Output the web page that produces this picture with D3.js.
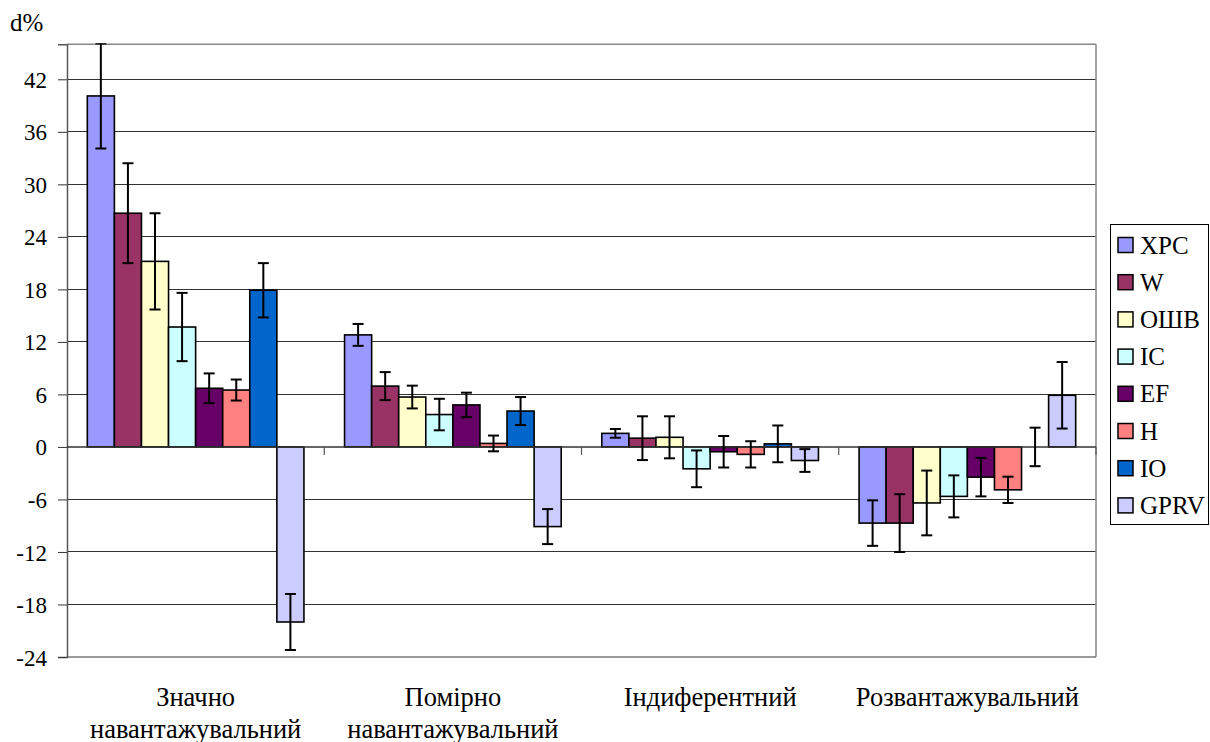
<!DOCTYPE html>
<html><head><meta charset="utf-8">
<script src="https://cdnjs.cloudflare.com/ajax/libs/d3/7.8.5/d3.min.js"></script>
<style>body{margin:0;background:#fff}svg{display:block}</style>
</head><body><svg id="c" width="1210" height="742"></svg>
<script>
const categories = [["Значно","навантажувальний"],["Помірно","навантажувальний"],["Індиферентний"],["Розвантажувальний"]];
const seriesNames = ["XPC","W","ОШВ","IC","EF","H","IO","GPRV"];
const seriesColors = ["#9999FF","#993366","#FFFFCC","#CCFFFF","#660066","#FF8080","#0066CC","#CCCCFF"];
// values per series, one per category
const XPC  = [40.1, 12.8, 1.55, -8.7];
const W    = [26.7, 6.95, 1.0, -8.7];
const OShV = [21.2, 5.7, 1.1, -6.4];
const IC   = [13.7, 3.7, -2.5, -5.65];
const EF   = [6.7, 4.8, -0.55, -3.45];
const H    = [6.5, 0.4, -0.85, -4.9];
const IO   = [17.9, 4.1, 0.35, 0.0];
const GPRV = [-20.0, -9.1, -1.55, 5.9];
// error (± half-length)
const XPC_err  = [6.0, 1.25, 0.5, 2.6];
const W_err    = [5.7, 1.6, 2.5, 3.3];
const OShV_err = [5.5, 1.3, 2.4, 3.7];
const IC_err   = [3.9, 1.8, 2.1, 2.4];
const EF_err   = [1.7, 1.4, 1.8, 2.2];
const H_err    = [1.2, 0.9, 1.5, 1.5];
const IO_err   = [3.1, 1.6, 2.1, 2.2];
const GPRV_err = [3.2, 2.0, 1.3, 3.8];
const yTicks = [-24,-18,-12,-6,0,6,12,18,24,30,36,42];
const yMin = -24, yMax = 46;

const values = [XPC,W,OShV,IC,EF,H,IO,GPRV];
const errs = [XPC_err,W_err,OShV_err,IC_err,EF_err,H_err,IO_err,GPRV_err];
const FONT = "Liberation Serif";

const svg = d3.select("#c");
const L = 67, R = 1096, T = 44.3, B = 657;
const y = d3.scaleLinear().domain([yMin,yMax]).range([B,T]);
const x0 = d3.scaleBand().domain(d3.range(categories.length)).range([L,R]).paddingInner(0);
const gw = x0.bandwidth();
const bw = gw/9.5;
const x1 = d3.scaleBand().domain(d3.range(seriesNames.length)).range([0.75*bw, 0.75*bw+8*bw]);

svg.append("defs").append("clipPath").attr("id","clip").append("rect")
  .attr("x",L).attr("y",T-1).attr("width",R-L).attr("height",B-T+2);

// gridlines
svg.append("g").selectAll("line").data(yTicks.filter(t=>t!==yMin && t!==0)).join("line")
  .attr("x1",L).attr("x2",R).attr("y1",d=>y(d)).attr("y2",d=>y(d))
  .attr("stroke","#333").attr("stroke-width",1).attr("shape-rendering","crispEdges");
// plot border top/right/bottom
svg.append("line").attr("x1",L).attr("x2",R).attr("y1",T).attr("y2",T).attr("stroke","#888").attr("stroke-width",1.5);
svg.append("line").attr("x1",R).attr("x2",R).attr("y1",T).attr("y2",B).attr("stroke","#888").attr("stroke-width",1.5);
svg.append("line").attr("x1",L).attr("x2",R).attr("y1",B).attr("y2",B).attr("stroke","#777").attr("stroke-width",1.5);

// y axis
const yAxis = d3.axisLeft(y).tickValues(yTicks).tickSize(9).tickPadding(11).tickFormat(d3.format("d"));
const ga = svg.append("g").attr("transform",`translate(${L},0)`).call(yAxis);
ga.attr("font-family",FONT).attr("font-size",23);
ga.select(".domain").attr("stroke","#555").attr("stroke-width",1.5);
ga.selectAll(".tick line").attr("stroke","#333");
ga.selectAll(".tick text").attr("fill","#000").attr("font-family",FONT).attr("font-size",23)
  .attr("dy","0.35em").text(d=>d<0?"-"+Math.abs(d):d);

// bars
const gBars = svg.append("g").attr("clip-path","url(#clip)");
categories.forEach((c,ci)=>{
  values.forEach((s,si)=>{
    const v = s[ci];
    const xx = x0(ci)+x1(si);
    gBars.append("rect").attr("x",xx).attr("width",x1.bandwidth())
      .attr("y",y(Math.max(0,v))).attr("height",Math.abs(y(v)-y(0)))
      .attr("fill",seriesColors[si]).attr("stroke","#000").attr("stroke-width",1.6);
  });
});
// zero axis line
svg.append("line").attr("x1",L).attr("x2",R).attr("y1",y(0)).attr("y2",y(0)).attr("stroke","#333").attr("stroke-width",1.5);
// category ticks
svg.append("g").selectAll("line").data(d3.range(1,categories.length+1)).join("line")
  .attr("x1",i=>L+i*gw).attr("x2",i=>L+i*gw).attr("y1",y(0)).attr("y2",y(0)+8)
  .attr("stroke","#555").attr("stroke-width",1.2);
// error bars
const gErr = svg.append("g").attr("clip-path","url(#clip)");
categories.forEach((c,ci)=>{
  values.forEach((s,si)=>{
    const v = s[ci], e = errs[si][ci];
    const cx = x0(ci)+x1(si)+x1.bandwidth()/2;
    const g = gErr.append("g").attr("stroke","#000").attr("stroke-width",2);
    g.append("line").attr("x1",cx).attr("x2",cx).attr("y1",y(v+e)).attr("y2",y(v-e));
    g.append("line").attr("x1",cx-5.5).attr("x2",cx+5.5).attr("y1",y(v+e)).attr("y2",y(v+e));
    g.append("line").attr("x1",cx-5.5).attr("x2",cx+5.5).attr("y1",y(v-e)).attr("y2",y(v-e));
  });
});
// category labels
categories.forEach((c,ci)=>{
  const cx = x0(ci)+gw/2;
  c.forEach((line,li)=>{
    svg.append("text").attr("x",cx).attr("y",705.5+li*32.5).attr("text-anchor","middle")
      .attr("font-family",FONT).attr("font-size",26.5).attr("fill","#000").text(line);
  });
});
// y label
svg.append("text").attr("x",10).attr("y",31).attr("font-family",FONT).attr("font-size",25).attr("fill","#000").text("d%");
// legend
const lg = svg.append("g");
lg.append("rect").attr("x",1110.5).attr("y",224.5).attr("width",98).attr("height",300)
  .attr("fill","#fff").attr("stroke","#000").attr("stroke-width",1);
seriesNames.forEach((n,i)=>{
  const cy = 245 + i*37.2;
  lg.append("rect").attr("x",1118).attr("y",cy-7.5).attr("width",15).attr("height",15)
    .attr("fill",seriesColors[i]).attr("stroke","#000").attr("stroke-width",1.5);
  lg.append("text").attr("x",1140).attr("y",cy+8.5).attr("font-family",FONT).attr("font-size",25).attr("fill","#000").text(n);
});
</script></body></html>
